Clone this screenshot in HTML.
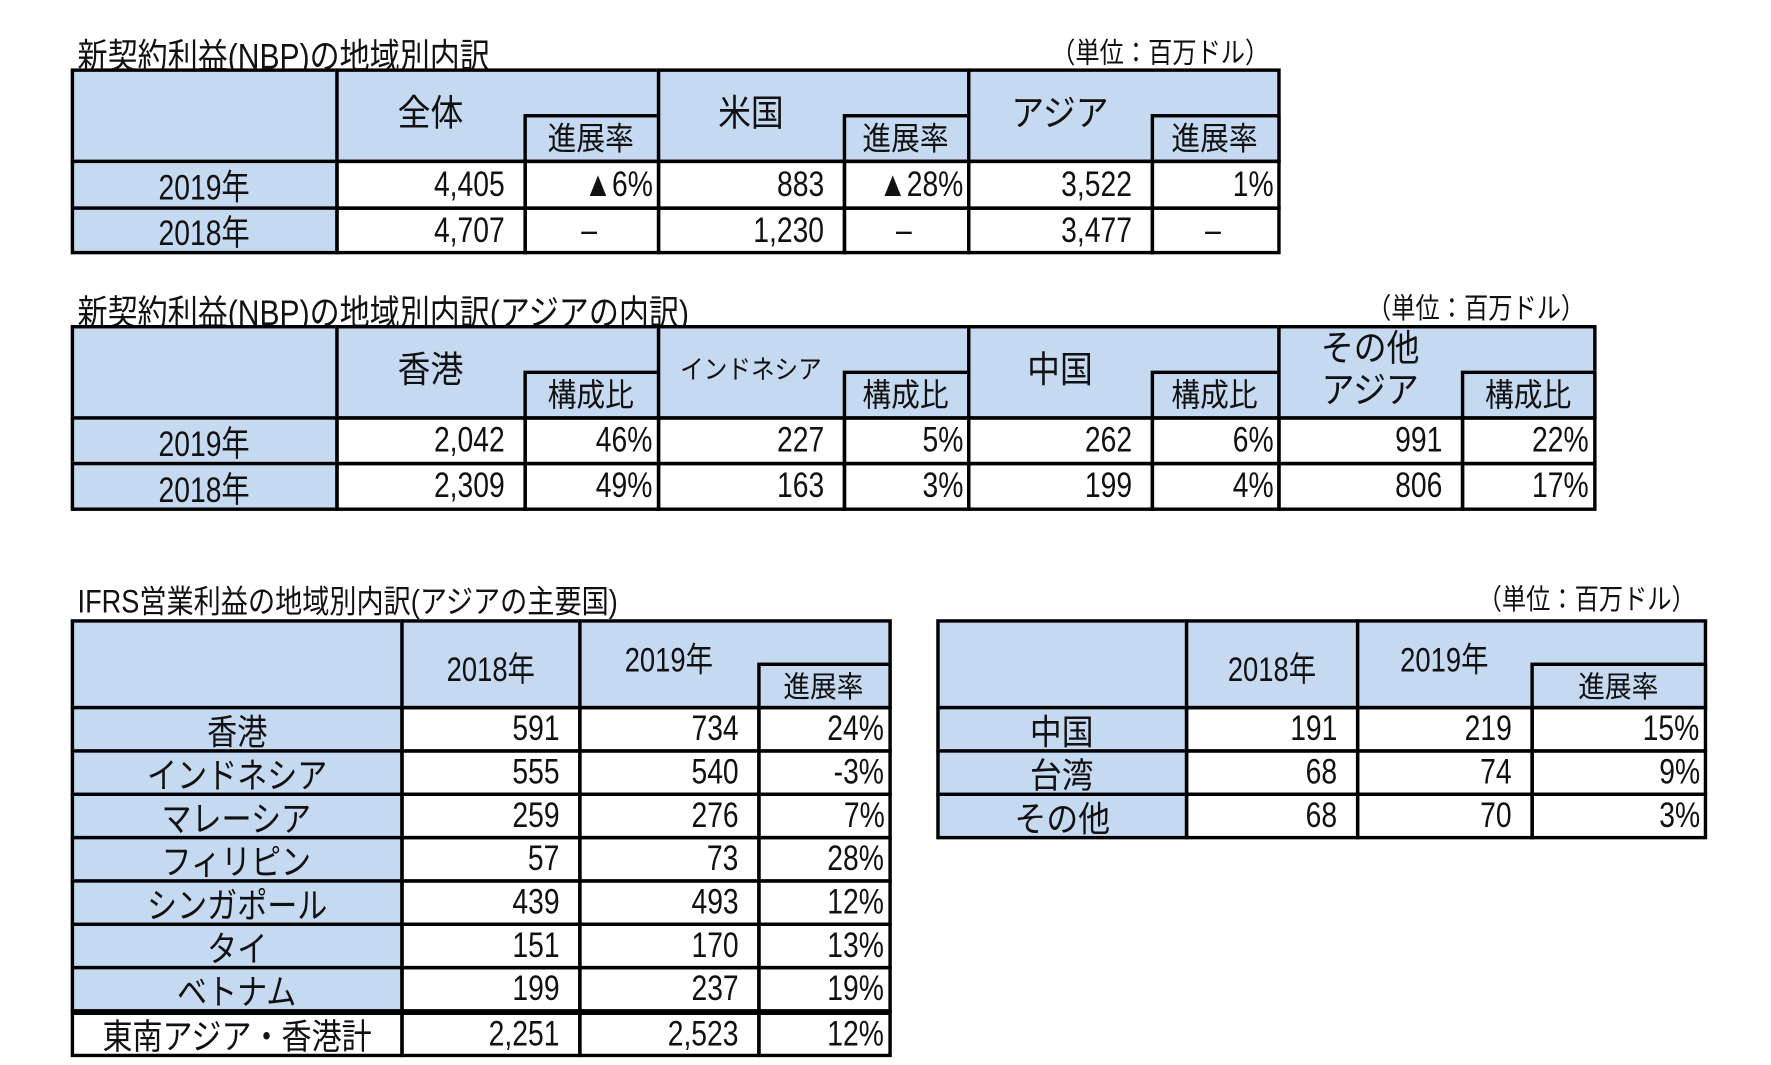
<!DOCTYPE html>
<html><head><meta charset="utf-8">
<style>
html,body{margin:0;padding:0;background:#fff;}
body{width:1771px;height:1065px;overflow:hidden;position:relative;}
#wrap{position:absolute;left:0;top:0;width:1553px;height:934px;transform:scale(1.1404);transform-origin:0 0;}
.c{position:absolute;box-sizing:border-box;border:3px solid #000;font-family:"Liberation Sans","Noto Sans CJK JP",sans-serif;color:#111;white-space:nowrap;overflow:visible;display:flex;align-items:center;}
.b{background:#c5d9f1;}
.c span{display:inline-block;transform:scaleX(0.8);}
.t{position:absolute;font-family:"Liberation Sans","Noto Sans CJK JP",sans-serif;color:#111;white-space:nowrap;}
</style></head><body>
<div id="wrap"></div>
<script>
// Table 1 data
const t1Rows = ["2019年","2018年"];
const t1Heads = ["全体","米国","アジア"];
const t1Vals = [["4,405","▲6%","883","▲28%","3,522","1%"],["4,707","–","1,230","–","3,477","–"]];
// Table 2 data
const t2Heads = ["香港","インドネシア","中国","その他<br>アジア"];
const t2Vals = [["2,042","46%","227","5%","262","6%","991","22%"],["2,309","49%","163","3%","199","4%","806","17%"]];
// Table 3 data
const t3Rows = ["香港","インドネシア","マレーシア","フィリピン","シンガポール","タイ","ベトナム","東南アジア・香港計"];
const t3Vals = [["591","734","24%"],["555","540","-3%"],["259","276","7%"],["57","73","28%"],["439","493","12%"],["151","170","13%"],["199","237","19%"],["2,251","2,523","12%"]];
// Table 4 data
const t4Rows = ["中国","台湾","その他"];
const t4Vals = [["191","219","15%"],["68","74","9%"],["68","70","3%"]];

const W = document.getElementById('wrap');
function cell(x1,y1,x2,y2,html,o){
  o=o||{};
  const d=document.createElement('div');
  d.className='c'+(o.blue?' b':'');
  d.style.left=(x1-1.5)+'px';d.style.top=(y1-1.5)+'px';
  d.style.width=(x2-x1+3)+'px';d.style.height=(y2-y1+3)+'px';
  d.style.fontSize=(o.fs||31)+'px';
  const al=o.al||'flex-end';
  d.style.justifyContent=al;
  if(o.pr!==undefined)d.style.paddingRight=o.pr+'px';
  if(o.ai)d.style.alignItems=o.ai;
  if(o.bw)d.style.borderWidth=o.bw;
  if(html!==""){
    const s=document.createElement('span');
    s.innerHTML=html;
    s.style.transformOrigin=al=='center'?'center':'right';
    if(o.sx)s.style.transform='scaleX('+o.sx+')';
    d.appendChild(s);
  }
  W.appendChild(d);
  return d;
}
function txt(x,y,s,fs,right){
  const d=document.createElement('div');
  d.className='t';d.style.fontSize=fs+'px';d.style.top=y+'px';
  if(right){d.style.right=(1553-x)+'px';d.style.transformOrigin='right';}else{d.style.left=x+'px';d.style.transformOrigin='left';}
  d.style.transform='scaleX(0.85)';
  d.textContent=s;W.appendChild(d);return d;
}
function label(x1,x2,y,s,fs){
  const d=document.createElement('div');
  d.className='t';d.style.left=x1+'px';d.style.width=(x2-x1)+'px';d.style.textAlign='center';
  d.style.top=y+'px';d.style.fontSize=fs+'px';d.innerHTML=s;d.style.lineHeight='1.15';
  d.style.transform='scaleX(0.9)';
  W.appendChild(d);return d;
}
let e;
e=txt(68,24,"新契約利益(NBP)の地域別内訳",31);


e=txt(1113,27,"（単位：百万ドル）",25,true);


e=txt(68,249,"新契約利益(NBP)の地域別内訳(アジアの内訳)",31);


e=txt(1390,251,"（単位：百万ドル）",25,true);


e=txt(68,506,"IFRS営業利益の地域別内訳(アジアの主要国)",28);


e=txt(1487,506,"（単位：百万ドル）",25,true);



// Table 1
const c1=[63,295,460,577,740,849,1010,1121];
const r1=[61,141,182,221];
e=cell(c1[0],r1[0],c1[1],r1[1],"",{blue:1});


t1Heads.forEach((h,i)=>{
  const x1=c1[1+2*i],xm=c1[2+2*i],x2=c1[3+2*i];
  e=cell(x1,r1[0],x2,r1[1],"",{blue:1});
  
  
  e=label(x1,xm,81,h,32);
  
  
  e=cell(xm,101,x2,r1[1],"進展率",{blue:1,al:'center',fs:28,ai:'flex-end',sx:0.9});
  
  
});
t1Rows.forEach((r,ri)=>{
  e=cell(c1[0],r1[ri+1],c1[1],r1[ri+2],r,{blue:1,al:'center'});
  
  
  t1Vals[ri].forEach((v,ci)=>{
    const isP=ci%2==1;
    e=cell(c1[ci+1],r1[ri+1],c1[ci+2],r1[ri+2],v,{al:v=="–"?'center':'flex-end',pr:isP?3:16});
    
    
  });
});

// Table 2
const c2=[63,295,460,577,740,849,1010,1121,1282,1398];
const r2=[286,366,406,446];
e=cell(c2[0],r2[0],c2[1],r2[1],"",{blue:1});


t2Heads.forEach((h,i)=>{
  const x1=c2[1+2*i],xm=c2[2+2*i],x2=c2[3+2*i];
  e=cell(x1,r2[0],x2,r2[1],"",{blue:1});
  
  
  let y=306,fs=32;
  if(i==1){y=311;fs=23;}
  if(i==3){y=287;fs=32;}
  e=label(x1,xm,y,h,fs);
  
  
  e=cell(xm,326,x2,r2[1],"構成比",{blue:1,al:'center',fs:28,ai:'flex-end',sx:0.9});
  
  
});
t1Rows.forEach((r,ri)=>{
  e=cell(c2[0],r2[ri+1],c2[1],r2[ri+2],r,{blue:1,al:'center'});
  
  
  t2Vals[ri].forEach((v,ci)=>{
    const isP=ci%2==1;
    e=cell(c2[ci+1],r2[ri+1],c2[ci+2],r2[ri+2],v,{pr:isP?3:16});
    
    
  });
});

// Table 3
const c3=[63,352,508,665,780];
const r3=[544,620,658,696,734,772,810,848,886,925];
e=cell(c3[0],r3[0],c3[1],r3[1],"",{blue:1});


e=cell(c3[1],r3[0],c3[2],r3[1],"2018年",{blue:1,al:'center',ai:'flex-start',fs:30});
e.style.paddingTop='16px';


e=cell(c3[2],r3[0],c3[4],r3[1],"",{blue:1});


e=label(c3[2],c3[3],563,"2019年",30);
e.style.transform='scaleX(0.8)';


e=cell(c3[3],582,c3[4],r3[1],"進展率",{blue:1,al:'center',fs:26,ai:'flex-end',sx:0.9});


t3Rows.forEach((r,ri)=>{
  const last=ri==t3Rows.length-1;
  e=cell(c3[0],r3[ri+1],c3[1],r3[ri+2],r,{blue:!last,al:'center',fs:31,sx:0.85,bw:last?'5px 3px 3px 3px':undefined});
  
  
  t3Vals[ri].forEach((v,ci)=>{
    e=cell(c3[ci+1],r3[ri+1],c3[ci+2],r3[ri+2],v,{pr:ci==2?3:16,bw:last?'5px 3px 3px 3px':undefined});
    
    
  });
});

// Table 4
const c4=[822,1040,1190,1343,1495];
const r4=[544,620,658,696,734];
e=cell(c4[0],r4[0],c4[1],r4[1],"",{blue:1});


e=cell(c4[1],r4[0],c4[2],r4[1],"2018年",{blue:1,al:'center',ai:'flex-start',fs:30});
e.style.paddingTop='16px';


e=cell(c4[2],r4[0],c4[4],r4[1],"",{blue:1});


e=label(c4[2],c4[3],563,"2019年",30);
e.style.transform='scaleX(0.8)';


e=cell(c4[3],582,c4[4],r4[1],"進展率",{blue:1,al:'center',fs:26,ai:'flex-end',sx:0.9});


t4Rows.forEach((r,ri)=>{
  e=cell(c4[0],r4[ri+1],c4[1],r4[ri+2],r,{blue:1,al:'center',fs:31,sx:0.9});
  
  
  t4Vals[ri].forEach((v,ci)=>{
    e=cell(c4[ci+1],r4[ri+1],c4[ci+2],r4[ri+2],v,{pr:ci==2?3:16});
    
    
  });
});
</script>
</body></html>
